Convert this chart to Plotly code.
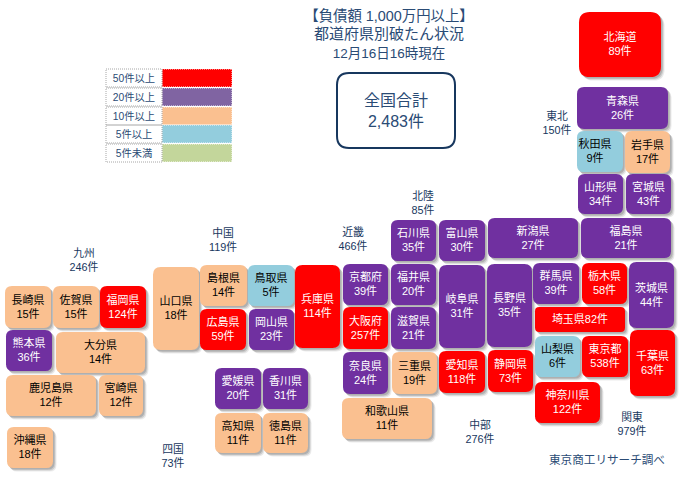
import plotly.graph_objects as go

# ---------- data ----------
prefectures = ["北海道","青森県","秋田県","岩手県","山形県","宮城県","石川県","富山県","新潟県","福島県",
               "京都府","福井県","大阪府","滋賀県","岐阜県","長野県","群馬県","栃木県","茨城県","埼玉県",
               "山梨県","東京都","千葉県","神奈川県","奈良県","三重県","愛知県","静岡県","和歌山県",
               "長崎県","佐賀県","福岡県","熊本県","大分県","鹿児島県","宮崎県","沖縄県",
               "山口県","島根県","鳥取県","兵庫県","広島県","岡山県","愛媛県","香川県","高知県","徳島県"]
counts = [89,26,9,17,34,43,35,30,27,21,
          39,20,257,21,31,35,39,58,44,82,
          6,538,63,122,24,19,118,73,11,
          15,15,124,36,14,12,12,18,
          18,14,5,114,59,23,20,31,11,11]
regions = ["東北","北陸","近畿","中国","九州","四国","中部","関東"]
region_counts = [150,85,466,119,246,73,276,979]
legend_labels = ["50件以上","20件以上","10件以上","5件以上","5件未満"]
legend_floor = [50,20,10,5,0]
title_lines = ["【負債額 1,000万円以上】","都道府県別破たん状況","12月16日16時現在"]
total_label = ["全国合計","2,483件"]
source_label = "東京商工リサーチ調べ"

# ---------- layout of the tile map (pixels on the 685x477 page) ----------
tile_left  = [579,577,577,625,578,626,391,439,488,581,
              343,391,343,391,439,487,533,582,629,535,
              535,582,630,535,343,392,439,488,342,
              5,53,100,6,56,6,99,7,
              153,200,248,295,200,249,215,263,215,263]
tile_top   = [12,87,131,131,174,174,220,220,218,218,
              264,264,307,307,265,264,263,263,262,307,
              336,336,330,382,352,352,351,350,398,
              286,286,286,330,332,375,375,427,
              267,265,265,265,309,309,368,368,413,413]
tile_right = [661,668,623,670,623,671,436,485,578,671,
              388,436,388,436,485,532,579,627,674,625,
              580,628,675,600,388,437,485,533,432,
              51,99,146,52,145,96,143,53,
              199,247,294,340,246,294,261,308,261,308]
tile_bot   = [77,129,172,173,214,214,261,261,258,258,
              305,305,349,349,348,347,304,304,328,332,
              377,377,396,423,394,394,393,392,439,
              328,328,328,371,373,416,416,468,
              350,306,306,348,350,350,409,409,453,453]
label_shift_x = {"秋田県": -5}
region_x = [557,423,353,223,84,173,480,632]
region_y = [124,204,240,241,261,457,433,425]
legend_tops = [69,88,107,125,144]
legend_bots = [87,106,125,143,162]
legend_x = [106,162,232]
title_x = 389
title_y = [17.5,35.5,54.5]
title_sizes = [14.4,15,13.5]
total_y = [102,123]

NAVY = "#17375E"
SOFT_NAVY = "#2A4B75"
RED, PURPLE, ORANGE, BLUE, GREEN = "#FF0000","#7030A0","#FAC090","#93CDDD","#C3D69B"
tile_palette = [RED, PURPLE, ORANGE, BLUE, GREEN]
legend_palette = [RED, "#8064A2", ORANGE, BLUE, GREEN]
FONT = "Liberation Sans, Noto Sans CJK JP"


def class_of(n):
    for i, floor in enumerate(legend_floor):
        if n >= floor:
            return i
    return len(legend_floor) - 1


def round_rect(x0, y0, x1, y1, r):
    return (f"M {x0+r} {y0} L {x1-r} {y0} Q {x1} {y0} {x1} {y0+r} "
            f"L {x1} {y1-r} Q {x1} {y1} {x1-r} {y1} "
            f"L {x0+r} {y1} Q {x0} {y1} {x0} {y1-r} "
            f"L {x0} {y0+r} Q {x0} {y0} {x0+r} {y0} Z")


shapes = []
for name, n, x0, y0, x1, y1 in zip(prefectures, counts, tile_left, tile_top, tile_right, tile_bot):
    r = min(x1 - x0, y1 - y0) * 0.1667
    for off, col in ((3.5, "rgba(90,90,90,0.13)"), (2.5, "rgba(90,90,90,0.20)"), (1.5, "rgba(90,90,90,0.26)")):
        shapes.append(dict(type="path", path=round_rect(x0 + off, y0 + off, x1 + off, y1 + off, r),
                           xref="x", yref="y", fillcolor=col, line_width=0, layer="below"))
for name, n, x0, y0, x1, y1 in zip(prefectures, counts, tile_left, tile_top, tile_right, tile_bot):
    r = min(x1 - x0, y1 - y0) * 0.1667
    shapes.append(dict(type="path", path=round_rect(x0, y0, x1, y1, r), xref="x", yref="y",
                       fillcolor=tile_palette[class_of(n)], line_width=0, layer="below"))

# total box
shapes.append(dict(type="path", path=round_rect(337, 73, 455, 148, 12), xref="x", yref="y",
                   fillcolor="white", line=dict(color=NAVY, width=2), layer="below"))

# legend table
for col, top, bot in zip(legend_palette, legend_tops, legend_bots):
    shapes.append(dict(type="rect", x0=legend_x[1], x1=legend_x[2], y0=top, y1=bot, xref="x", yref="y",
                       fillcolor=col, line=dict(color="white", width=1, dash="1px,1px"), layer="below"))
    shapes.append(dict(type="rect", x0=legend_x[0], x1=legend_x[1], y0=top, y1=bot, xref="x", yref="y",
                       fillcolor="rgba(0,0,0,0)", line=dict(color="#A6A6A6", width=1, dash="1px,1px"), layer="below"))

fig = go.Figure()


def add_text(xs, ys, texts, size, color):
    fig.add_trace(go.Scatter(x=xs, y=ys, text=texts, mode="text", textposition="middle center",
                             textfont=dict(family=FONT, size=size, color=color),
                             hoverinfo="skip", showlegend=False))


# tile labels
white_x, white_y, white_t, dark_x, dark_y, dark_t = [], [], [], [], [], []
for name, n, x0, y0, x1, y1 in zip(prefectures, counts, tile_left, tile_top, tile_right, tile_bot):
    cx = (x0 + x1) / 2 + label_shift_x.get(name, 0)
    cy = (y0 + y1) / 2 + 1
    label = f"{name}{n}件" if y1 - y0 < 30 else f"{name}<br>{n}件"
    if class_of(n) < 2:
        white_x.append(cx); white_y.append(cy); white_t.append(label)
    else:
        dark_x.append(cx); dark_y.append(cy); dark_t.append(label)
add_text(white_x, white_y, white_t, 11, "white")
add_text(dark_x, dark_y, dark_t, 11, "black")

# region labels
add_text(region_x, region_y, [f"{a}<br>{b}件" for a, b in zip(regions, region_counts)], 10.8, NAVY)

# legend labels
add_text([(legend_x[0] + legend_x[1]) / 2] * 5, [(a + b) / 2 + 1 for a, b in zip(legend_tops, legend_bots)],
         legend_labels, 10.3, SOFT_NAVY)

# title, total, source
for line, y, size in zip(title_lines, title_y, title_sizes):
    add_text([title_x], [y], [line], size, SOFT_NAVY)
add_text([396] * 2, total_y, total_label, 16, SOFT_NAVY)
add_text([607], [461], [source_label], 11.6, SOFT_NAVY)

fig.update_layout(
    width=685, height=477, autosize=False,
    margin=dict(l=0, r=0, t=0, b=0, pad=0),
    paper_bgcolor="white", plot_bgcolor="white",
    xaxis=dict(range=[0, 685], visible=False, fixedrange=True),
    yaxis=dict(range=[477, 0], visible=False, fixedrange=True),
    shapes=shapes,
)
fig.write_html("out.html", config={"displayModeBar": False},
               post_script="document.body.style.margin='0';document.body.style.overflow='hidden';")
